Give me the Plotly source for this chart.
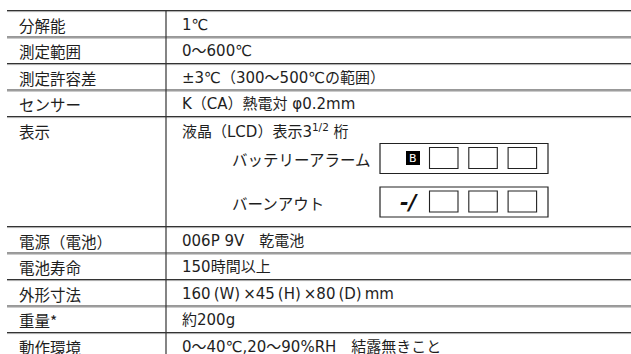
import plotly.graph_objects as go

# ---- table content ----
labels = ["分解能", "測定範囲", "測定許容差", "センサー", "表示",
          "電源（電池）", "電池寿命", "外形寸法", "重量*", "動作環境"]
values = ["1℃", "0～600℃", "±3℃（300～500℃の範囲）", "K（CA）熱電対 φ0.2mm",
          "液晶（LCD）表示3<sup>1/2</sup> 桁",
          "006P 9V　乾電池", "150時間以上",
          "160\u2009(W)\u2009×45\u2009(H)\u2009×80\u2009(D)\u2009mm",
          "約200g", "0～40℃,20～90%RH　結露無きこと"]
display_items = ["バッテリーアラーム", "バーンアウト"]
display_codes = ["B", "-/"]
row_weights = [1, 1, 1, 1, 4.15, 1, 1, 1, 1, 1]

W, H = 631, 354
FONT = "DejaVu Sans, Noto Sans CJK JP"
JFONT = "Noto Sans CJK JP"
TXT = "#1e1e1e"
FS = 15.5
FSV = 15

x_left, x_div, x_right = 7, 166, 631
x_lab, x_val, x_sub = 17, 180, 230
top, unit = 10, 26.5

fig = go.Figure()
shapes, ann = [], []

# row boundaries
bounds = [top]
for w in row_weights:
    bounds.append(bounds[-1] + w * unit)

def hline(y):
    shapes.append(dict(type="line", x0=x_left, x1=x_right, y0=y + 0.5, y1=y + 0.5,
                       line=dict(color="#333333", width=1.2), layer="above"))
    shapes.append(dict(type="line", x0=x_left, x1=x_right, y0=y + 1.6, y1=y + 1.6,
                       line=dict(color="#a8a8a8", width=1), layer="above"))

for b in bounds:
    hline(b)

# vertical divider
shapes.append(dict(type="line", x0=x_div, x1=x_div, y0=top, y1=H + 5,
                   line=dict(color="#333333", width=1.2)))

for i, (lab, val) in enumerate(zip(labels, values)):
    y0, y1 = bounds[i], bounds[i + 1]
    yc = (y0 + unit / 2 + 1.5) if row_weights[i] > 1 else (y0 + y1) / 2 + 1.5
    ann.append(dict(x=x_lab, y=yc, text=lab, xanchor="left", yanchor="middle",
                    showarrow=False, font=dict(family=JFONT, size=FS, color=TXT)))
    ann.append(dict(x=x_val, y=yc, text=val, xanchor="left", yanchor="middle",
                    showarrow=False, font=dict(family=FONT, size=FSV, color=TXT)))
    if row_weights[i] > 1:
        # LCD illustrations
        box_tops = [y0 + 27.5, y0 + 71]
        for k, (item, code) in enumerate(zip(display_items, display_codes)):
            bt = box_tops[k]
            bb = bt + 30
            ann.append(dict(x=x_sub, y=(bt + bb) / 2 + 0.5, text=item, xanchor="left",
                            yanchor="middle", showarrow=False,
                            font=dict(family=JFONT, size=FS, color=TXT)))
            shapes.append(dict(type="rect", x0=380, x1=548, y0=bt, y1=bb,
                               line=dict(color="#222222", width=1.2)))
            sq_t, sq_b = bt + 4, bt + 25
            for j in range(3):
                sx = 429.5 + j * 39.3
                shapes.append(dict(type="rect", x0=sx, x1=sx + 28.5, y0=sq_t, y1=sq_b,
                                   line=dict(color="#222222", width=1.1)))
            cy = (sq_t + sq_b) / 2
            if code == "B":
                shapes.append(dict(type="rect", x0=406, x1=420, y0=cy - 7, y1=cy + 7,
                                   fillcolor="#000000", line=dict(width=0)))
                ann.append(dict(x=413, y=cy + 0.5, text="B", xanchor="center",
                                yanchor="middle", showarrow=False,
                                font=dict(family="DejaVu Sans", size=11, color="white")))
            else:
                ann.append(dict(x=409, y=cy + 1, text="<b><i>" + code + "</i></b>",
                                xanchor="center", yanchor="middle", showarrow=False,
                                font=dict(family="DejaVu Sans", size=21, color="#111111")))

fig.update_layout(
    width=W, height=H,
    margin=dict(l=0, r=0, t=0, b=0),
    paper_bgcolor="white", plot_bgcolor="white",
    xaxis=dict(range=[0, W], visible=False, fixedrange=True),
    yaxis=dict(range=[H, 0], visible=False, fixedrange=True),
    shapes=shapes, annotations=ann, showlegend=False,
)

fig.write_html("out.html", config={"displayModeBar": False},
               post_script="document.body.style.margin='0';document.body.style.overflow='hidden';")
